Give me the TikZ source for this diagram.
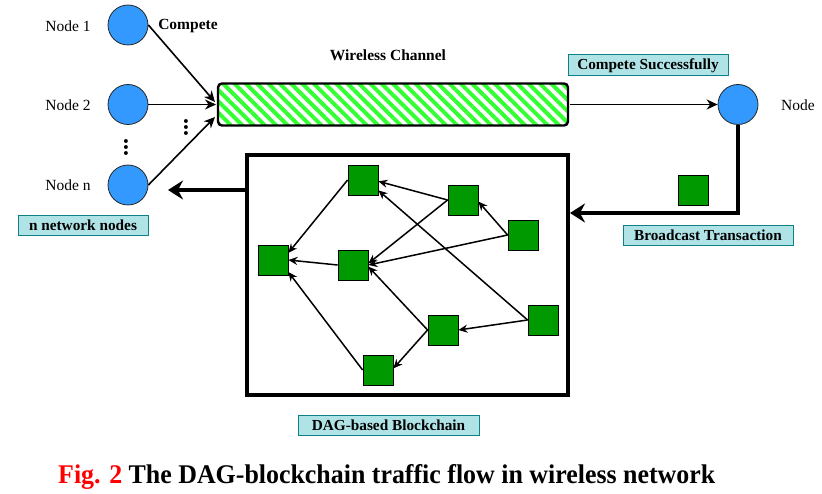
\documentclass[tikz,border=0pt]{standalone}
\usepackage{fontspec}
\setmainfont{Liberation Serif}
\usetikzlibrary{arrows.meta,patterns.meta,calc}
\definecolor{nodeblue}{HTML}{3399FF}
\definecolor{sqgreen}{HTML}{009900}
\definecolor{hatch}{HTML}{33FF33}
\definecolor{lblfill}{HTML}{B0E3E6}
\definecolor{lbldraw}{HTML}{0E8088}
\begin{document}
\begin{tikzpicture}[x=1pt,y=-1pt,
  netnode/.style={circle,draw=black!85,line width=0.8pt,fill=nodeblue,minimum size=40pt,inner sep=0pt},
  block/.style={rectangle,draw=black,line width=0.8pt,fill=sqgreen,minimum size=30pt,inner sep=0pt},
  lbl/.style={rectangle,draw=lbldraw,line width=1pt,fill=lblfill,inner sep=0pt,font=\bfseries\fontsize{15.3}{18}\selectfont},
  plain/.style={inner sep=0pt,font=\fontsize{15.5}{18}\selectfont},
  boldtxt/.style={inner sep=0pt,font=\bfseries\fontsize{15.5}{18}\selectfont},
  thinarrow/.style={line width=1.6pt,-{Stealth[length=11pt,width=10pt,inset=3.5pt]}},
  thickarrow/.style={line width=4pt,-{Stealth[length=15pt,width=19pt,inset=5pt]}},
  dagedge/.style={line width=1.5pt,-{Stealth[length=9pt,width=8pt,inset=3pt]}},
]
\useasboundingbox[fill=white] (0,0) rectangle (822,494);

% network nodes
\node[netnode] (n1) at (128,25) {};
\node[netnode] (n2) at (128,104.5) {};
\node[netnode] (nn) at (128,185) {};
\node[netnode] (nd) at (738,104.5) {};
\node[plain] (l1) at (68,26) {Node 1};
\node[plain] (l2) at (68,105) {Node 2};
\node[plain] (ln) at (68,185) {Node n};
\node[plain] (lnd) at (798,105) {Node};
\node[boldtxt] (cmp) at (188,26) {Compete};
\node[inner sep=0pt,font=\bfseries\fontsize{24}{24}\selectfont,rotate=90] (dots1) at (126,148) {...};
\node[inner sep=0pt,font=\bfseries\fontsize{24}{24}\selectfont,rotate=90] (dots2) at (186,128) {...};

% wireless channel
\node[boldtxt] (wc) at (388,55) {Wireless Channel};
\node[rectangle,rounded corners=4pt,draw=black,line width=2.4pt,
      pattern={Lines[angle=-45,distance=8pt,line width=4pt]},pattern color=hatch,
      minimum width=350pt,minimum height=42pt,inner sep=0pt] (ch) at (393,104.5) {};

\draw[thinarrow] (n1.east) -- ($(ch.west)+(-1,-2.5)$);
\draw[thinarrow] (n2.east) -- (ch.west);
\draw[thinarrow] (nn.east) -- ($(ch.west)+(-1,12.5)$);
\draw[thinarrow] (ch.east) -- (nd.west);

% labels
\node[lbl,minimum width=130pt,minimum height=20pt] (nnl) at (83,225.5) {n network nodes};
\node[lbl,minimum width=160pt,minimum height=21pt] (csl) at (648,65.5) {Compete Successfully};
\node[lbl,minimum width=170pt,minimum height=20pt] (btl) at (708,235.5) {Broadcast Transaction};
\node[lbl,minimum width=181pt,minimum height=20pt] (dagl) at (388.5,425) {DAG-based Blockchain};

% DAG box
\node[rectangle,draw=black,line width=4pt,minimum width=321pt,minimum height=240pt,inner sep=0pt] (dag) at (407.5,275) {};
\node[block] (tx) at (693,190) {};
\coordinate (leftend) at (168,190);
\draw[thickarrow] ($(dag.north west)+(0,37)$) -- (leftend);
\draw[thickarrow] (nd.south) |- ($(dag.north east)+(0,60)$);

% DAG blocks
\node[block] (A) at (363,180) {};
\node[block] (B) at (463,200) {};
\node[block] (C) at (523,235) {};
\node[block] (D) at (273,260) {};
\node[block] (E) at (353,265) {};
\node[block] (F) at (543,320) {};
\node[block] (G) at (443,330) {};
\node[block] (H) at (378,370) {};

\draw[dagedge] (A.west) -- (D.25);
\draw[dagedge] (B.west) -- (A.-5);
\draw[dagedge] (B.west) -- (E.6);
\draw[dagedge] (C.west) -- (B.-6);
\draw[dagedge] (C.west) -- (E.east);
\draw[dagedge] (E.west) -- (D.east);
\draw[dagedge] (F.west) -- (A.-34);
\draw[dagedge] (F.west) -- (G.east);
\draw[dagedge] (G.west) -- (E.-6);
\draw[dagedge] (G.west) -- (H.6);
\draw[dagedge] (H.west) -- (D.-38);

% caption
\node[anchor=base west,inner sep=0pt] (cap) at (58,483) {\resizebox{657pt}{19pt}{\bfseries\fontsize{20}{24}\selectfont\textcolor{red}{Fig. 2} The DAG-blockchain traffic flow in wireless network}};
\end{tikzpicture}
\end{document}
